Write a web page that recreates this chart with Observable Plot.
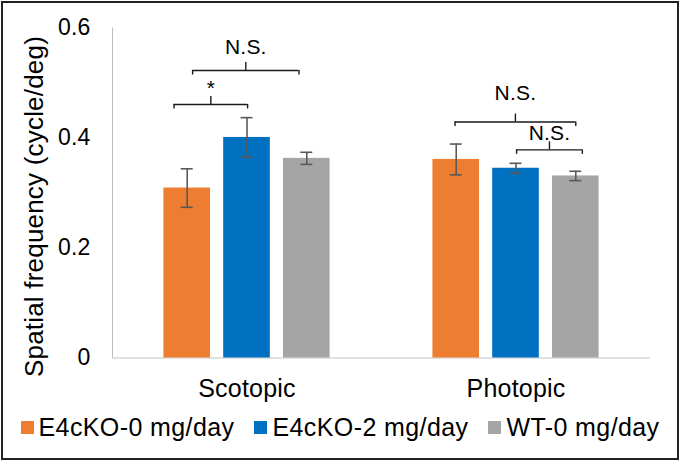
<!DOCTYPE html>
<html><head><meta charset="utf-8">
<script src="https://cdn.jsdelivr.net/npm/d3@7"></script>
<script src="https://cdn.jsdelivr.net/npm/@observablehq/plot@0.6"></script>
<style>
html,body{margin:0;padding:0;background:#fff;}
#wrap{position:relative;width:680px;height:462px;overflow:hidden;font-family:"Liberation Sans",Arial,sans-serif;}
#frame{position:absolute;left:1px;top:1px;width:678px;height:459px;box-sizing:border-box;border:2px solid #222;pointer-events:none;}
#chart{position:absolute;left:0;top:0;}
#legend{position:absolute;left:0;top:412px;width:680px;display:flex;justify-content:center;gap:20px;font-size:25px;letter-spacing:0.4px;color:#000;line-height:30px;}
.item{display:flex;align-items:center;white-space:nowrap;}
.sw{width:13px;height:13px;margin-right:5px;flex:none;}
svg text{letter-spacing:0.2px;}
</style></head><body>
<div id="wrap"><div id="chart"></div><div id="legend"></div><div id="frame"></div></div>
<script>
const groups = ["Scotopic", "Photopic"];
const series = ["E4cKO-0 mg/day", "E4cKO-2 mg/day", "WT-0 mg/day"];
const colors = ["#ED7D31", "#0070C0", "#A5A5A5"];
// mean values per group [Scotopic, Photopic]
const e4cko0 = [0.309, 0.361];
const e4cko2 = [0.401, 0.345];
const wt0 = [0.363, 0.331];
// error bar half-lengths
const e4cko0Err = [0.035, 0.028];
const e4cko2Err = [0.036, 0.009];
const wt0Err = [0.011, 0.0085];
const yTicks = [0, 0.2, 0.4, 0.6];
const yTickLabels = ["0", "0.2", "0.4", "0.6"];
const yLabel = "Spatial frequency (cycle/deg)";
// significance brackets: x in bar slots (0,1,2) within the group
const bracketGroup = ["Scotopic", "Scotopic", "Photopic", "Photopic"];
const bracketFrom = [-0.22, 0.09, -0.02, 1.01];
const bracketTo = [1.01, 1.87, 2.0, 2.11];
const bracketY = [0.461, 0.5227, 0.429, 0.3785];
const bracketLabelY = [0.479, 0.5531, 0.4695, 0.3955];
const bracketLabel = ["*", "N.S.", "N.S.", "N.S."];

// layout constants
const groupSpan = 4.5, barHalf = 0.39, capHalf = 0.1;
const xDomain = [-1.25, 7.75];
const drop = 0.0082, rise = 0.0145;

const valueLists = [e4cko0, e4cko2, wt0];
const errLists = [e4cko0Err, e4cko2Err, wt0Err];
const rows = series.flatMap((s, si) => groups.map((g, gi) => ({
  series: s, group: g, pos: gi * groupSpan + si,
  value: valueLists[si][gi], err: errLists[si][gi]
})));
const brackets = bracketLabel.map((label, i) => {
  const base = groups.indexOf(bracketGroup[i]) * groupSpan;
  const x1 = base + bracketFrom[i], x2 = base + bracketTo[i];
  return {label, x1, x2, mid: (x1 + x2) / 2, y: bracketY[i], ly: bracketLabelY[i]};
});
const bracketEnds = brackets.flatMap(b => [{x: b.x1, y: b.y}, {x: b.x2, y: b.y}]);
const ink = "#1a1a1a";

const chart = Plot.plot({
  width: 680, height: 405,
  marginLeft: 112, marginRight: 30, marginTop: 27.5, marginBottom: 47.5,
  style: {fontFamily: "'Liberation Sans', Arial, sans-serif", color: "#000", background: "transparent"},
  x: {domain: xDomain},
  y: {domain: [0, 0.6]},
  color: {domain: series, range: colors},
  marks: [
    Plot.ruleY([0], {stroke: "#c4c4c4", strokeWidth: 1}),
    Plot.ruleX([xDomain[0]], {y1: 0, y2: 0.6, stroke: "#bdbdbd", strokeWidth: 1}),
    Plot.rectY(rows, {x1: d => d.pos - barHalf, x2: d => d.pos + barHalf, y1: 0, y2: "value", fill: "series"}),
    Plot.ruleX(rows, {x: "pos", y1: d => d.value - d.err, y2: d => d.value + d.err, stroke: "#595959", strokeWidth: 1.6}),
    Plot.ruleY(rows, {x1: d => d.pos - capHalf, x2: d => d.pos + capHalf, y: d => d.value - d.err, stroke: "#595959", strokeWidth: 1.6}),
    Plot.ruleY(rows, {x1: d => d.pos - capHalf, x2: d => d.pos + capHalf, y: d => d.value + d.err, stroke: "#595959", strokeWidth: 1.6}),
    Plot.ruleY(brackets, {x1: "x1", x2: "x2", y: "y", stroke: ink, strokeWidth: 1.4}),
    Plot.ruleX(bracketEnds, {x: "x", y1: "y", y2: d => d.y - drop, stroke: ink, strokeWidth: 1.4}),
    Plot.ruleX(brackets, {x: "mid", y1: "y", y2: d => d.y + rise, stroke: ink, strokeWidth: 1.4}),
    Plot.text(brackets, {x: "mid", y: "ly", text: "label", lineAnchor: "bottom", fontSize: 21, fill: "#000"}),
    Plot.axisY({ticks: yTicks, tickFormat: d => yTickLabels[yTicks.indexOf(d)], tickSize: 0, tickPadding: 22, fontSize: 23, label: null}),
    Plot.axisX({ticks: groups.map((g, i) => i * groupSpan + 1), tickFormat: d => groups[Math.round((d - 1) / groupSpan)], tickSize: 0, tickPadding: 21, fontSize: 25, label: null}),
    Plot.text([yLabel], {text: d => d, frameAnchor: "left", rotate: -90, dx: -78, dy: 13.5, fontSize: 26, lineAnchor: "middle", textAnchor: "middle", fill: "#000"})
  ]
});
document.getElementById("chart").appendChild(chart);

const legend = document.getElementById("legend");
series.forEach((s, i) => {
  const item = document.createElement("div");
  item.className = "item";
  const sw = document.createElement("span");
  sw.className = "sw";
  sw.style.background = colors[i];
  const label = document.createElement("span");
  label.textContent = s;
  item.appendChild(sw);
  item.appendChild(label);
  legend.appendChild(item);
});
</script>
</body></html>
